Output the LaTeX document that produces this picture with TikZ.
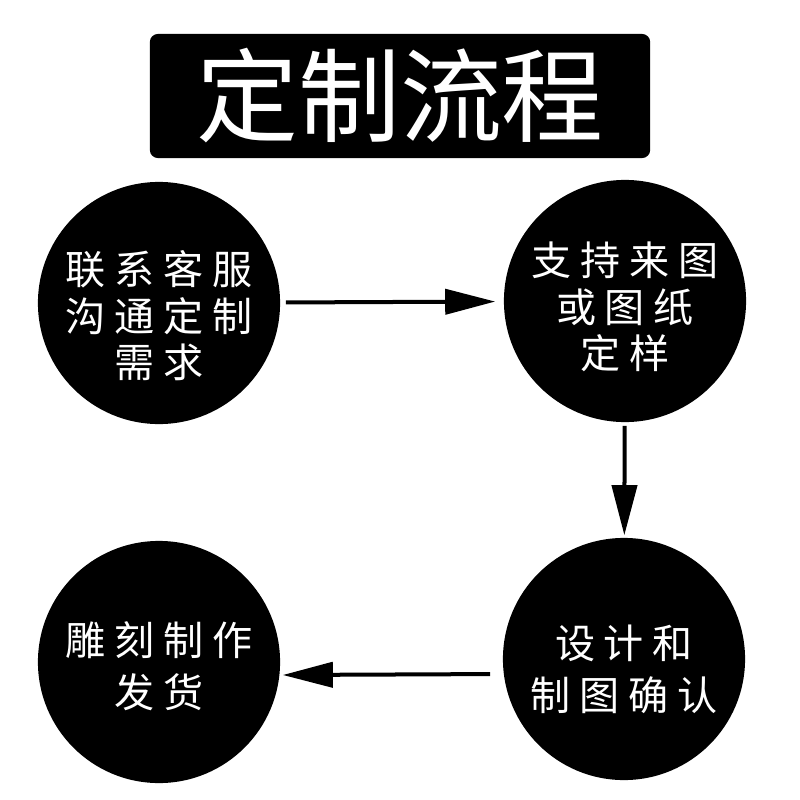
\documentclass[tikz,border=0pt]{standalone}
\usepackage{fontspec}
\usetikzlibrary{arrows.meta}
\newfontfamily\cjk{Noto Sans CJK SC}
\newfontfamily\cjkspaced[LetterSpace=22]{Noto Sans CJK SC}

\begin{document}
\begin{tikzpicture}[x=0.01cm, y=-0.01cm]
      \tikzstyle{banner}=[fill=black, rounded corners=0.08cm, minimum width=5cm, minimum height=1.24cm, inner sep=0pt, text=white, font=\cjk\fontsize{29}{29}\selectfont];
      \tikzstyle{stage}=[circle, fill=black, minimum size=2.42cm, inner sep=0pt];
      \tikzstyle{stagetext}=[align=center, inner sep=0pt, text=white, font=\cjkspaced\fontsize{11.4}{13.2}\selectfont];
      \tikzstyle{widetext}=[stagetext, font=\cjkspaced\fontsize{11.4}{14.8}\selectfont];
      \tikzstyle{flow}=[line width=0.04cm, -{Triangle[length=0.5cm, width=0.25cm]}];

      \useasboundingbox (0, 0) rectangle (800, 800);

      \node[banner] (title) at (400, 96) {定制流程};

      % the four steps, text set a bit below the centre
      \node[stage, label={[stagetext, yshift=-0.13cm]center:联系客服\\沟通定制\\需求}] (contact) at (159, 303) {};
      \node[stage, label={[stagetext, yshift=-0.06cm]center:支持来图\\或图纸\\定样}] (sample) at (625, 301) {};
      \node[stage, label={[widetext, yshift=-0.10cm]center:设计和\\制图确认}] (design) at (624, 659) {};
      \node[stage, label={[widetext, yshift=-0.04cm]center:雕刻制作\\发货}] (ship) at (159, 662) {};

      \draw[flow, shorten <=0.05cm, shorten >=0.08cm] (contact) -- (sample);
      \draw[flow, shorten <=0.03cm, shorten >=0.02cm] (sample) -- (design);
      \draw[flow, shorten <=0.12cm, shorten >=0.02cm] ([yshift=-0.15cm]design.west) -- ([yshift=-0.13cm]ship.east);
\end{tikzpicture}
\end{document}
